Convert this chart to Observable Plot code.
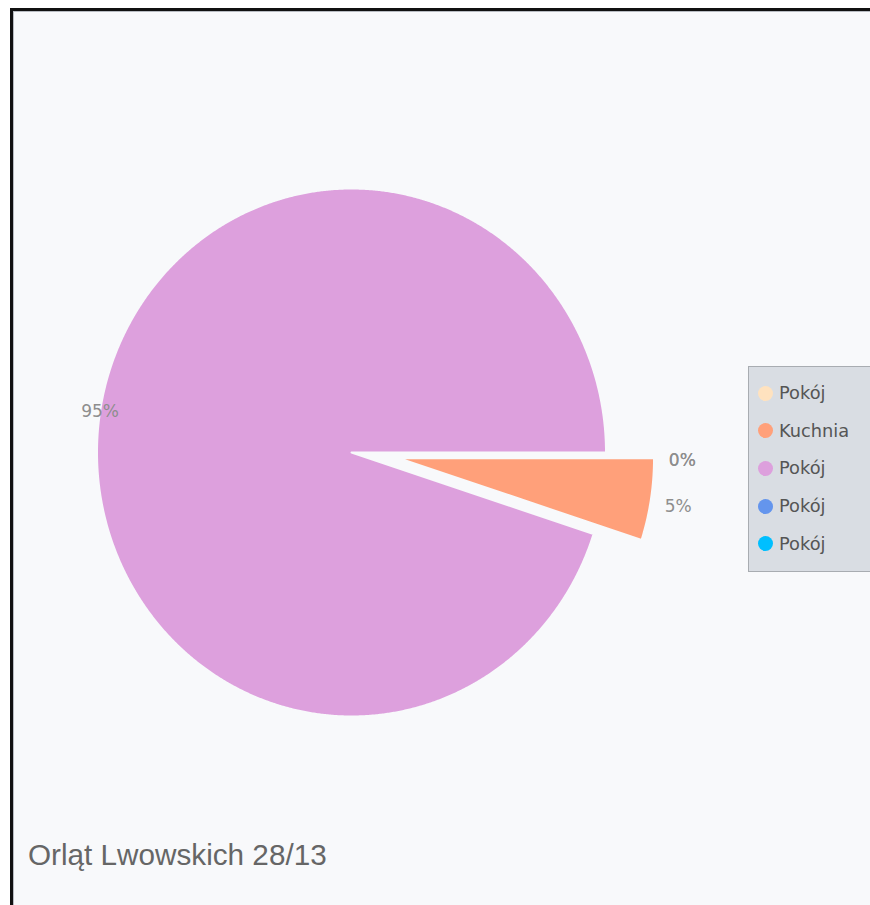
<!DOCTYPE html>
<html>
<head>
<meta charset="utf-8">
<script src="https://cdn.jsdelivr.net/npm/d3@7"></script>
<script src="https://cdn.jsdelivr.net/npm/@observablehq/plot@0.6"></script>
<style>
html, body { margin: 0; padding: 0; background: #fff; width: 870px; height: 905px; overflow: hidden; }
#frame { position: absolute; left: 10px; top: 8px; width: 900px; height: 960px;
  border-top: 3px solid #111; border-left: 3px solid #111; background: #f8f9fb;
  box-shadow: inset 1px 1px 0 #b8bcc2; }
#chart { position: absolute; left: 0; top: 0; }
#legend { position: absolute; left: 748px; top: 366px; width: 140px; height: 204px;
  background: #d9dde3; border: 1px solid #a8acb1; font-family: "DejaVu Sans", sans-serif;
  font-size: 17.8px; color: #555; }
.item { position: absolute; left: 0; height: 24px; line-height: 24px; white-space: nowrap; }
.dot { position: absolute; left: 9px; top: 4.5px; width: 15px; height: 15px; border-radius: 50%; }
.lab { position: absolute; left: 30px; top: 0; }
#title { position: absolute; left: 28px; top: 838px; font-family: "Liberation Sans", Arial, sans-serif;
  font-size: 29.7px; color: #666; white-space: nowrap; }
</style>
</head>
<body>
<div id="frame"></div>
<div id="chart"></div>
<div id="legend"></div>
<div id="title"></div>
<script>
// ---- data ----
const title = "Orląt Lwowskich 28/13";
const categories = ["Pokój", "Kuchnia", "Pokój", "Pokój", "Pokój"];
const values = [0, 5, 95, 0, 0];
const valueLabels = ["0%", "5%", "95%", "0%", "0%"];
const palette = ["#ffe2bf", "#ffa07a", "#dda0dd", "#6495ed", "#00bfff"];

// ---- layout constants ----
const EXPLODE = 0.19;
const explodedCategory = "Kuchnia";

const rows = categories.map((c, i) => ({i, category: c, value: values[i], label: valueLabels[i], color: palette[i]}));
const arcs = d3.pie().sort(null).value(d => d.value).startAngle(Math.PI / 2).endAngle(Math.PI / 2 + 2 * Math.PI)(rows);

const marks = [];
const textRows = [];
const seen = new Set();
for (const a of arcs) {
  const d = a.data;
  const mid = (a.startAngle + a.endAngle) / 2;
  const off = d.category === explodedCategory && d.value > 0 ? EXPLODE : 0;
  const dir = mid - 0.04;
  const ox = off * Math.sin(dir), oy = -off * Math.cos(dir);
  if (a.endAngle - a.startAngle > 0) {
    const n = Math.max(2, Math.ceil((a.endAngle - a.startAngle) / 0.005));
    const pts = [{x: ox, y: oy}];
    for (let k = 0; k <= n; k++) {
      const t = a.startAngle + (a.endAngle - a.startAngle) * k / n;
      pts.push({x: ox + Math.sin(t), y: oy - Math.cos(t)});
    }
    pts.push({x: ox, y: oy});
    marks.push(Plot.line(pts, {x: "x", y: "y", fill: d.color, stroke: "#f8f9fb", strokeWidth: 2, curve: "linear"}));
  }
  const r = d.value >= 50 ? 1.0 : 1.3;
  const lx = r * Math.sin(mid), ly = -r * Math.cos(mid);
  const key = lx.toFixed(3) + "," + ly.toFixed(3);
  if (!seen.has(key)) {
    seen.add(key);
    textRows.push({x: lx, y: ly, text: d.label, zero: d.value === 0});
  }
}
marks.push(Plot.text(textRows, {x: "x", y: "y", text: "text", fill: "#8e8e8e", fontSize: 17,
  fontFamily: "DejaVu Sans", textAnchor: "middle", lineAnchor: "middle"}));

const svg = Plot.plot({
  width: 870, height: 905, margin: 0,
  x: {domain: [-1, 1], range: [96.5, 605.5], axis: null},
  y: {domain: [-1, 1], range: [188, 716], axis: null},
  style: {background: "transparent", overflow: "visible"},
  marks
});
document.getElementById("chart").appendChild(svg);

// shift zero-value labels slightly down as in the reference
d3.select(svg).selectAll("g[aria-label=text] text").each(function(_, k) {
  if (textRows[k] && textRows[k].zero) d3.select(this).attr("dy", "0.5em");
});

// legend
const legend = d3.select("#legend");
rows.forEach((d, i) => {
  const it = legend.append("div").attr("class", "item").style("top", (14 + i * 37.7) + "px");
  it.append("div").attr("class", "dot").style("background", d.color);
  it.append("div").attr("class", "lab").text(d.category);
});
document.getElementById("title").textContent = title;
</script>
</body>
</html>
